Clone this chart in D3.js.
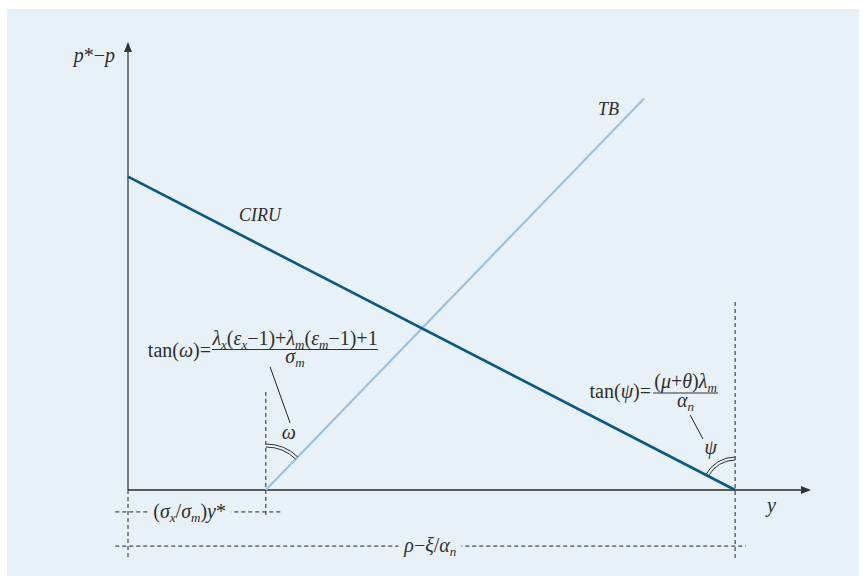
<!DOCTYPE html>
<html>
<head>
<meta charset="utf-8">
<script src="https://cdn.jsdelivr.net/npm/d3@7"></script>
<style>
  body { margin: 0; background: #fff; }
  svg text { font-family: "Liberation Serif", "DejaVu Serif", serif; fill: #2e2e2e; }
</style>
</head>
<body>
<div id="chart"></div>
<script>
// Model values (abstract units: y axis = output, vertical = p*-p)
const xMax = 1.125;              // end of y axis
const yMax = 1.43;               // end of p*-p axis
const yStar = 0.227;             // (σx/σm)y*
const yBar = 1;                  // ρ−ξ/αn
const ciruPoints = [[0, 1], [yBar, 0]];
const tbPoints = [[yStar, 0], [0.85, 1.25]];
const lineNames = ['CIRU', 'TB'];
const lineColors = ['#0b5784', '#9dc1dd'];

// Guide lines [x1, y1, x2, y2] in the same units
const guideV = [[0, 0, 0, -0.22], [yStar, 0.313, yStar, -0.086], [yBar, 0.6, yBar, -0.217]];
const guideH = [[-0.021, -0.07, 0.253, -0.07], [-0.021, -0.179, 1.018, -0.179]];

// Leader lines for the angle notes
const leaders = [[0.234, 0.393, 0.267, 0.214], [0.926, 0.239, 0.947, 0.163]];

const width = 866, height = 585;
const fs = 18, mathFs = 20, subFs = 13;
const bg = '#e8f1f8';

const svg = d3.select('#chart').append('svg')
    .attr('width', width)
    .attr('height', height);

svg.append('rect')
    .attr('x', 7).attr('y', 9)
    .attr('width', 852).attr('height', 567)
    .attr('fill', bg);

const xScale = d3.scaleLinear().domain([0, xMax]).range([128, 811]);
const yScale = d3.scaleLinear().domain([0, yMax]).range([490, 42]);

// Dashed guides
svg.append('g').selectAll('line')
    .data(guideV.concat(guideH))
    .join('line')
    .attr('x1', d => xScale(d[0])).attr('y1', d => yScale(d[1]))
    .attr('x2', d => xScale(d[2])).attr('y2', d => yScale(d[3]))
    .attr('stroke', '#222')
    .attr('stroke-width', 1)
    .attr('stroke-dasharray', '4,3');

// Math text helper: parts = [text, italic, sub]
function addMath(sel, parts) {
    let shifted = false;
    parts.forEach(([t, it, sub]) => {
        const ts = sel.append('tspan').text(t);
        if (it) ts.attr('font-style', 'italic');
        if (sub) {
            ts.attr('font-size', subFs);
            if (!shifted) ts.attr('dy', 4);
            shifted = true;
        } else {
            if (shifted) ts.attr('dy', -4);
            shifted = false;
        }
    });
    return sel;
}

function label(x, y, parts, anchor, size) {
    const t = svg.append('text')
        .attr('x', x).attr('y', y)
        .attr('text-anchor', anchor || 'start')
        .attr('font-size', size || fs);
    return addMath(t, parts);
}

// labels sitting on a dashed line, with a gap cut out
function gapLabel(x, y, parts) {
    const t = label(x, y + 6, parts, 'middle', mathFs);
    const b = t.node().getBBox();
    svg.insert('rect', () => t.node())
        .attr('x', b.x - 5).attr('y', y - 3)
        .attr('width', b.width + 10).attr('height', 6)
        .attr('fill', bg);
}

gapLabel(xScale(yStar / 2 - 0.012), yScale(-0.07), [
    ['(', false], ['σ', true], ['x', true, true], ['/', false], ['σ', true], ['m', true, true],
    [')', false], ['y', true], ['*', false]
]);
gapLabel(xScale(0.498), yScale(-0.179), [
    ['ρ', true], ['−', false], ['ξ', true], ['/', false], ['α', true], ['n', true, true]
]);

// Axes
const axisG = svg.append('g');
axisG.append('line')
    .attr('x1', xScale(0)).attr('y1', yScale(0))
    .attr('x2', xScale(0)).attr('y2', yScale(yMax) + 6)
    .attr('stroke', '#6e6e6e').attr('stroke-width', 1.8);
axisG.append('line')
    .attr('x1', xScale(0)).attr('y1', yScale(0))
    .attr('x2', xScale(xMax) - 6).attr('y2', yScale(0))
    .attr('stroke', '#2a2a2a').attr('stroke-width', 1.5);
// arrow heads
const tipY = [xScale(0), yScale(yMax)];
axisG.append('path')
    .attr('d', `M${tipY[0]},${tipY[1]} l-4,10 l8,0 z`)
    .attr('fill', '#333');
const tipX = [xScale(xMax), yScale(0)];
axisG.append('path')
    .attr('d', `M${tipX[0]},${tipX[1]} l-10,-4 l0,8 z`)
    .attr('fill', '#333');

// Curves
const line = d3.line().x(d => xScale(d[0])).y(d => yScale(d[1]));
svg.append('g').selectAll('path')
    .data([tbPoints, ciruPoints])
    .join('path')
    .attr('d', line)
    .attr('fill', 'none')
    .attr('stroke', (d, i) => i === 0 ? lineColors[1] : lineColors[0])
    .attr('stroke-width', (d, i) => i === 0 ? 2.2 : 2.6);

// Angle arcs (double), measured from the vertical to the curve
function angleArc(pts, cx, radii) {
    const [p0, p1] = pts;
    const dx = xScale(p1[0]) - xScale(p0[0]);
    const dy = Math.abs(yScale(p0[1]) - yScale(p1[1]));
    const up = -Math.PI / 2;
    const a = Math.atan2(Math.abs(dx), dy);
    // TB leans right of vertical, CIRU (seen from its foot) leans left
    const [a0, a1] = dx > 0 && p0[1] === 0 ? [up, up + a] : [up - a, up];
    radii.forEach(r => {
        const p = d3.path();
        p.arc(xScale(cx), yScale(0), r, a0, a1);
        svg.append('path').attr('d', p.toString())
            .attr('fill', 'none').attr('stroke', '#333').attr('stroke-width', 1);
    });
}
angleArc(tbPoints, yStar, [43, 46]);
angleArc(ciruPoints, yBar, [30, 33]);

svg.append('g').selectAll('line')
    .data(leaders)
    .join('line')
    .attr('x1', d => xScale(d[0])).attr('y1', d => yScale(d[1]))
    .attr('x2', d => xScale(d[2])).attr('y2', d => yScale(d[3]))
    .attr('stroke', '#222').attr('stroke-width', 1);

// Axis and curve labels
label(xScale(0) - 13, 62, [['p', true], ['*', false], ['−', false], ['p', true]], 'end', mathFs);
label(xScale(xMax) - 44, 512, [['y', true]], 'start', mathFs);
label(xScale(0.183), yScale(0.859), [[lineNames[0], true]]);
label(xScale(0.774), yScale(1.197), [[lineNames[1], true]]);
label(xScale(0.265), yScale(0.163), [['ω', true]], 'middle', mathFs);
label(xScale(0.96), yScale(0.115), [['ψ', true]], 'middle', mathFs);

// Formulas
function fraction(x, xBar0, xBar1, yBase, yBarPos, lhs, num, den) {
    label(x, yBase, lhs, 'end', mathFs);
    svg.append('line')
        .attr('x1', xBar0).attr('x2', xBar1)
        .attr('y1', yBarPos).attr('y2', yBarPos)
        .attr('stroke', '#333').attr('stroke-width', 1);
    const cx = (xBar0 + xBar1) / 2;
    label(cx, yBarPos - 5, num, 'middle', mathFs);
    label(cx, yBarPos + 13.5, den, 'middle', mathFs);
}

fraction(211, 212, 378, 357, 349.5,
    [['tan(', false], ['ω', true], [')=', false]],
    [['λ', true], ['x', true, true], ['(', false], ['ε', true], ['x', true, true], ['−1)+', false],
     ['λ', true], ['m', true, true], ['(', false], ['ε', true], ['m', true, true], ['−1)+1', false]],
    [['σ', true], ['m', true, true]]);

fraction(651, 653, 718, 398, 393,
    [['tan(', false], ['ψ', true], [')=', false]],
    [['(', false], ['μ', true], ['+', false], ['θ', true], [')', false], ['λ', true], ['m', true, true]],
    [['α', true], ['n', true, true]]);
</script>
</body>
</html>
